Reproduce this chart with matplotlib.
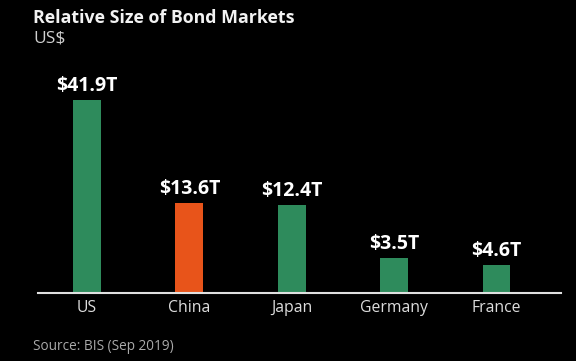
import matplotlib as mpl
mpl.use('agg')
import matplotlib.pyplot as plt

countries = ["US", "China", "Japan", "Germany", "France"]
value_labels = ["$41.9T", "$13.6T", "$12.4T", "$3.5T", "$4.6T"]
# bar heights as drawn in the source graphic (not proportional to labels)
bar_heights = [41.9, 19.5, 19.1, 7.6, 6.1]
bar_colors = ["#2e8b5c", "#e8541a", "#2e8b5c", "#2e8b5c", "#2e8b5c"]

plt.rcParams['font.family'] = ['Open Sans', 'DejaVu Sans']

fig = plt.figure(figsize=(5.76, 3.61), dpi=100, facecolor='black')
ax = fig.add_axes([38/576, 1-293/361, 523/576, 233/361])
ax.set_facecolor('black')

x = list(range(len(countries)))
bars = ax.bar(x, bar_heights, width=0.273, color=bar_colors)
for b, lab in zip(bars, value_labels):
    ax.annotate(lab, (b.get_x() + b.get_width()/2, b.get_height()),
                xytext=(0, 3), textcoords='offset points', ha='center', va='bottom',
                color='white', fontsize=14, fontweight='bold')

ax.set_xlim(-0.478, 4.63)
ax.set_ylim(0, 50.6)
ax.set_xticks(x)
ax.set_xticklabels(countries, color='#dddddd', fontsize=11.3)
ax.tick_params(axis='x', length=0, pad=5)
ax.set_yticks([])
for s in ['top', 'left', 'right']:
    ax.spines[s].set_visible(False)
ax.spines['bottom'].set_color('#e0e0e0')
ax.spines['bottom'].set_linewidth(1.5)

fig.text(33/576, 1-18/361, "Relative Size of Bond Markets", color='#f2f2f2',
         fontsize=12.8, fontweight='bold', va='center', ha='left')
fig.text(33/576, 1-39/361, "US$", color='#d0d0d0', fontsize=12.5, va='center', ha='left')
fig.text(33/576, 1-346/361, "Source: BIS (Sep 2019)", color='#aaaaaa', fontsize=9.8,
         va='center', ha='left')

plt.savefig("out.png", dpi=100, facecolor='black')
